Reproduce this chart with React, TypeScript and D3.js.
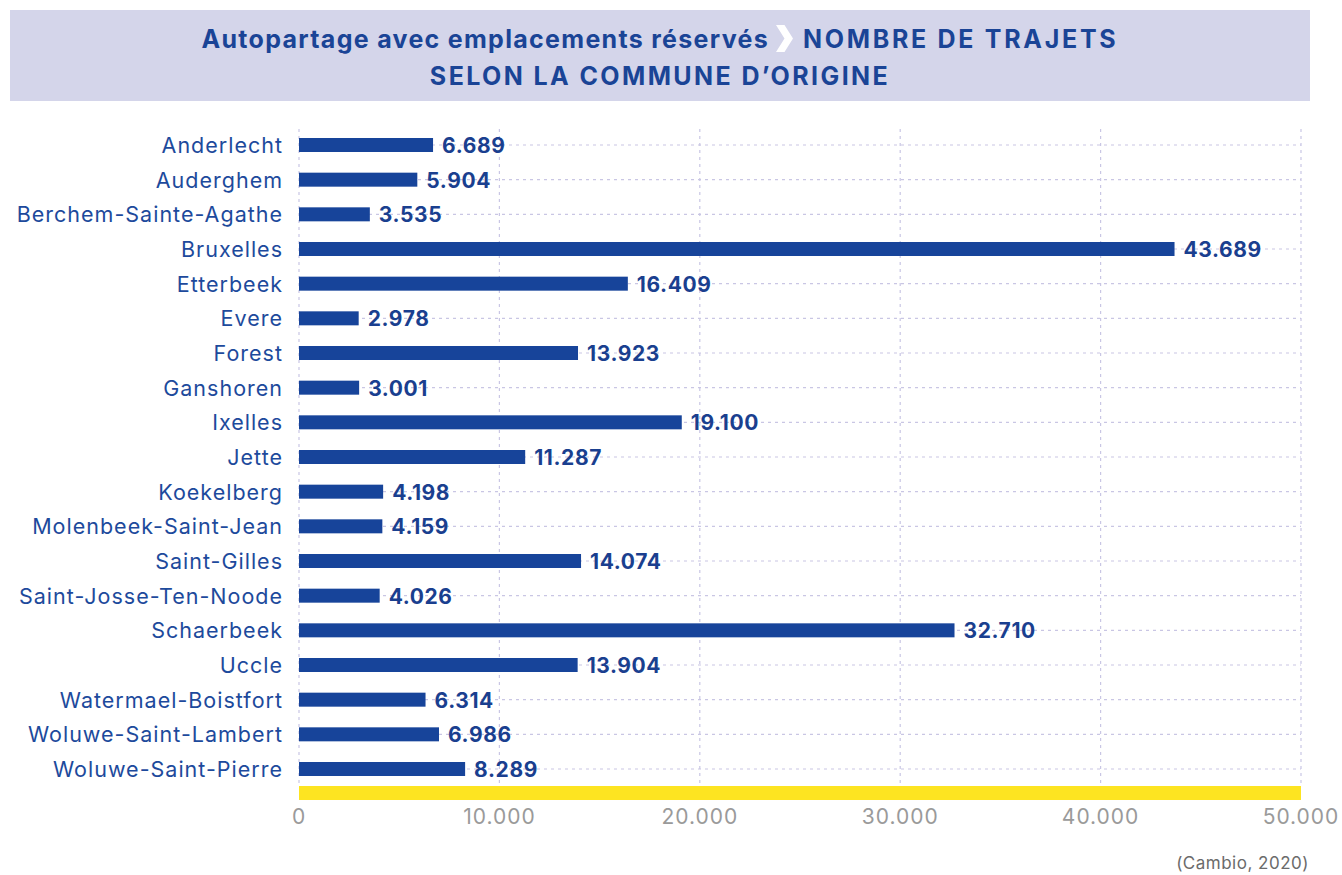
import React from "react";
import * as d3 from "d3";

const communes = [
  "Anderlecht", "Auderghem", "Berchem-Sainte-Agathe", "Bruxelles", "Etterbeek", "Evere",
  "Forest", "Ganshoren", "Ixelles", "Jette", "Koekelberg", "Molenbeek-Saint-Jean",
  "Saint-Gilles", "Saint-Josse-Ten-Noode", "Schaerbeek", "Uccle", "Watermael-Boistfort",
  "Woluwe-Saint-Lambert", "Woluwe-Saint-Pierre",
];
const trajets = [6689, 5904, 3535, 43689, 16409, 2978, 13923, 3001, 19100, 11287, 4198, 4159, 14074, 4026, 32710, 13904, 6314, 6986, 8289];
const xTicks = [0, 10000, 20000, 30000, 40000, 50000];

const fmt = (v: number) => String(v).replace(/\B(?=(\d{3})+(?!\d))/g, ".");

export default function App() {
  const W = 1342, H = 875;
  const x = d3.scaleLinear().domain([0, 50000]).range([299, 1301]);
  const y = d3.scalePoint<string>().domain(communes).range([145, 769]);
  const barH = 14;
  const blue = "#17449a";
  const grid = "#c9c6e4";
  const font = "Inter, 'Noto Sans', sans-serif";
  const chevron = d3.line()([[776, 25], [784.5, 25], [793, 38.5], [784.5, 52], [776, 52], [784.5, 38.5]]) + "Z";
  return (
    <svg width={W} height={H} style={{ position: "absolute", left: 0, top: 0 }}>
      <rect x={0} y={0} width={W} height={H} fill="#fff" />
      <rect x={10} y={10} width={1300} height={91} fill="#d4d5ea" />
      <text x={769} y={48} textAnchor="end" fontFamily={font} fontWeight={700} fontSize={25} fill="#1a4496" letterSpacing={1.3}>
        Autopartage avec emplacements réservés
      </text>
      <path d={chevron} fill="#ffffff" />
      <text x={803} y={48} textAnchor="start" fontFamily={font} fontWeight={700} fontSize={25} fill="#1a4496" letterSpacing={2.7}>
        NOMBRE DE TRAJETS
      </text>
      <text x={660} y={85} textAnchor="middle" fontFamily={font} fontWeight={700} fontSize={25} fill="#1a4496" letterSpacing={2.4}>
        SELON LA COMMUNE D’ORIGINE
      </text>
      {communes.map((c) => (
        <line key={"h" + c} x1={x(0)} x2={x(50000)} y1={y(c)} y2={y(c)} stroke={grid} strokeWidth={1.2} strokeDasharray="3,4" />
      ))}
      {xTicks.map((t) => (
        <line key={"v" + t} x1={x(t)} x2={x(t)} y1={129} y2={786} stroke={grid} strokeWidth={1.2} strokeDasharray="3,4" />
      ))}
      {communes.map((c, i) => (
        <g key={c}>
          <rect x={x(0)} y={(y(c) as number) - barH / 2} width={x(trajets[i]) - x(0)} height={barH} fill={blue} />
          <text x={x(trajets[i]) + 9} y={(y(c) as number) + 8} fontFamily={font} fontWeight={700} fontSize={21} fill="#1a3f8f" letterSpacing={0.6}>
            {fmt(trajets[i])}
          </text>
          <text x={283} y={(y(c) as number) + 8} textAnchor="end" fontFamily={font} fontSize={21.5} fill="#1d4a9c" letterSpacing={1.0}>
            {c}
          </text>
        </g>
      ))}
      <rect x={x(0)} y={786} width={x(50000) - x(0)} height={14} fill="#fde421" />
      {xTicks.map((t) => (
        <text key={"t" + t} x={x(t)} y={824} textAnchor="middle" fontFamily={font} fontSize={21} fill="#9a9a9a" letterSpacing={1.0}>
          {fmt(t)}
        </text>
      ))}
      <text x={1309} y={869} textAnchor="end" fontFamily={font} fontSize={17} fill="#6b6b6b" letterSpacing={0.5}>
        (Cambio, 2020)
      </text>
    </svg>
  );
}
